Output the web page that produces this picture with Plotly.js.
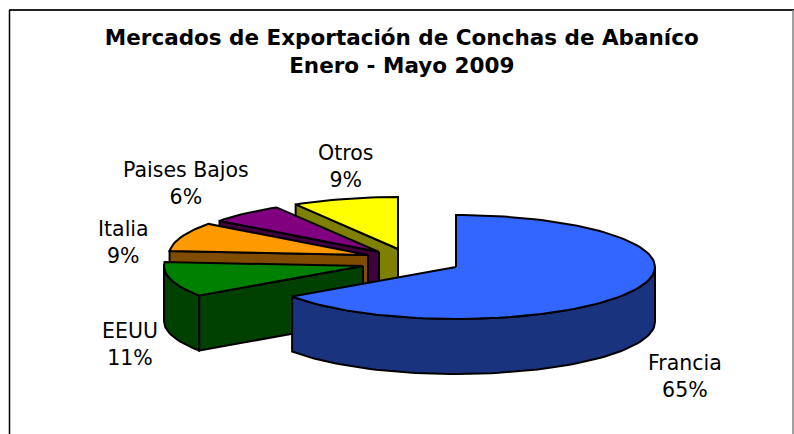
<!DOCTYPE html>
<html>
<head>
<meta charset="utf-8">
<script src="https://cdn.plot.ly/plotly-3.0.1.min.js"></script>
<style>html,body{margin:0;padding:0;background:#fff}#chart{width:794px;height:434px}</style>
</head>
<body>
<div id="chart"></div>
<script>
// Data
var categories = ["Francia", "EEUU", "Italia", "Paises Bajos", "Otros"];
var shares = [65.4, 10.8, 9.0, 6.2, 8.6];
var chartTitle = "<b>Mercados de Exportación de Conchas de Abaníco<br>Enero - Mayo 2009</b>";

// Styles
var topColors = ["#3366FF", "#008000", "#FF9900", "#800080", "#FFFF00"];
var sideColors = ["#1A337F", "#004000", "#804D00", "#400040", "#808000"];
var apexX = [456, 363, 368, 379, 398];
var apexY = [267, 266, 255, 252, 249];
var labelX = [685, 130, 123, 186, 345];
var labelY = [376, 344, 242, 183, 166];
var RX = 199, RY = 52, DEPTH = 55;

function rim(i, a, drop) {
  var r = a * Math.PI / 180;
  return [apexX[i] + RX * Math.sin(r), apexY[i] - RY * Math.cos(r) + drop];
}
function arc(i, a0, a1, drop) {
  var pts = [], n = Math.max(2, Math.ceil(Math.abs(a1 - a0) / 2));
  for (var k = 0; k <= n; k++) pts.push(rim(i, a0 + (a1 - a0) * k / n, drop));
  return pts;
}
function poly(pts, color) {
  var xs = pts.map(function (p) { return p[0]; });
  var ys = pts.map(function (p) { return p[1]; });
  xs.push(xs[0]); ys.push(ys[0]);
  return {
    type: "scatter", mode: "lines", x: xs, y: ys, fill: "toself", fillcolor: color,
    line: { color: "#000", width: 2, shape: "linear" }, hoverinfo: "skip", showlegend: false
  };
}

var total = shares.reduce(function (s, v) { return s + v; }, 0);
var starts = [], acc = 0;
shares.forEach(function (v) { starts.push(acc / total * 360); acc += v; });

var traces = [];
for (var i = shares.length - 1; i >= 0; i--) {
  var a0 = starts[i], a1 = a0 + shares[i] / total * 360;
  var ax = apexX[i], ay = apexY[i];
  // radial cut faces that turn towards the viewer
  if (Math.sin(a0 * Math.PI / 180) < -1e-6) {
    var p = rim(i, a0, 0), q = rim(i, a0, DEPTH);
    traces.push(poly([[ax, ay], p, q, [ax, ay + DEPTH]], sideColors[i]));
  }
  if (Math.sin(a1 * Math.PI / 180) > 1e-6) {
    var p2 = rim(i, a1, 0), q2 = rim(i, a1, DEPTH);
    traces.push(poly([[ax, ay], p2, q2, [ax, ay + DEPTH]], sideColors[i]));
  }
  // outer wall: the part of the rim on the front half
  var w0 = Math.max(a0, 90), w1 = Math.min(a1, 270);
  if (w1 > w0) {
    traces.push(poly(arc(i, w0, w1, 0).concat(arc(i, w1, w0, DEPTH)), sideColors[i]));
  }
  // top face
  traces.push(poly([[ax, ay]].concat(arc(i, a0, a1, 0)), topColors[i]));
}

var annotations = categories.map(function (c, i) {
  return {
    x: labelX[i], y: labelY[i], xref: "x", yref: "y", showarrow: false,
    text: c + "<br>" + Math.round(shares[i]) + "%", align: "center", xanchor: "center", yanchor: "middle",
    font: { family: "DejaVu Sans", size: 20.5, color: "#000" }
  };
});

var layout = {
  width: 794, height: 434,
  margin: { l: 0, r: 0, t: 0, b: 0, pad: 0 },
  paper_bgcolor: "#fff", plot_bgcolor: "#fff",
  showlegend: false,
  title: {
    text: chartTitle, x: 0.506, xanchor: "center", y: 0.896, yanchor: "middle",
    font: { family: "DejaVu Sans", size: 21.5, color: "#000" }
  },
  xaxis: { range: [0, 794], visible: false, fixedrange: true },
  yaxis: { range: [434, 0], visible: false, fixedrange: true },
  annotations: annotations,
  shapes: [
    { type: "line", xref: "x", yref: "y", x0: 9, x1: 794, y0: 10, y1: 10, line: { color: "#222", width: 2 } },
    { type: "line", xref: "x", yref: "y", x0: 9.5, x1: 9.5, y0: 10, y1: 434, line: { color: "#000", width: 1.5 } },
    { type: "line", xref: "x", yref: "y", x0: 793, x1: 793, y0: 10, y1: 434, line: { color: "#808080", width: 1.5 } }
  ]
};
Plotly.newPlot("chart", traces, layout, { displayModeBar: false, staticPlot: true });
</script>
</body>
</html>
